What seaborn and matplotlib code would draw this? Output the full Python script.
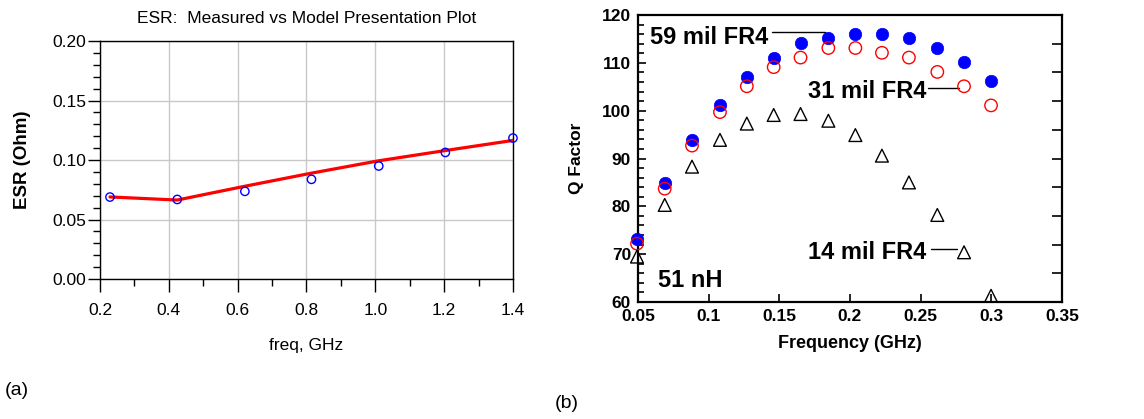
import numpy as np
import pandas as pd
import matplotlib
matplotlib.use("Agg")
import matplotlib.pyplot as plt
from matplotlib.ticker import MultipleLocator, FixedLocator
import seaborn as sns

# ---------------- data: panel (a) ----------------
esr_freq = [0.229, 0.4245, 0.621, 0.8145, 1.010, 1.2035, 1.400]
esr_measured = [0.0689, 0.0669, 0.0737, 0.0838, 0.0950, 0.1064, 0.1185]
esr_model = [0.0690, 0.0664, 0.0780, 0.0890, 0.0994, 0.1080, 0.1165]

# ---------------- data: panel (b) ----------------
q_freq = [0.0493, 0.0689, 0.0882, 0.108, 0.127, 0.146, 0.165, 0.1847,
          0.2038, 0.2226, 0.2417, 0.2618, 0.2807, 0.2998]
q_59mil = [73.1, 84.8, 93.9, 101.2, 107.1, 111.1, 114.1, 115.1, 116.1, 116.1,
           115.1, 113.0, 110.1, 106.1]
q_31mil = [72.2, 83.7, 92.7, 99.7, 105.1, 109.1, 111.1, 113.1, 113.1, 112.1,
           111.1, 108.1, 105.1, 101.1]
q_14mil = [69.5, 80.3, 88.3, 93.9, 97.3, 99.1, 99.3, 97.9, 94.9, 90.6,
           85.0, 78.2, 70.4, 61.3]

sns.set_theme(style="white")
plt.rcParams['font.family'] = ['Liberation Sans', 'DejaVu Sans']
for k in ["text.color", "axes.labelcolor", "xtick.color", "ytick.color",
          "axes.edgecolor"]:
    plt.rcParams[k] = "black"

fig = plt.figure(figsize=(11.44, 4.19), dpi=100)

# ================= panel (a) =================
axa = fig.add_axes([0.0874, 0.334, 0.361, 0.568])
sns.lineplot(x=esr_freq, y=esr_model, ax=axa, color="#ff0000", linewidth=2.3,
             zorder=3)
sns.scatterplot(x=esr_freq, y=esr_measured, ax=axa, marker="o", s=36,
                color="blue", facecolor="none", edgecolor="blue",
                linewidth=1.0, zorder=4, clip_on=False)
axa.set_xlim(0.2, 1.4)
axa.set_ylim(0.0, 0.20)
axa.xaxis.set_major_locator(MultipleLocator(0.2))
axa.xaxis.set_minor_locator(MultipleLocator(0.1))
axa.yaxis.set_major_locator(MultipleLocator(0.05))
axa.yaxis.set_minor_locator(MultipleLocator(0.01))
axa.xaxis.set_major_formatter(matplotlib.ticker.FormatStrFormatter('%.1f'))
axa.yaxis.set_major_formatter(matplotlib.ticker.FormatStrFormatter('%.2f'))
axa.grid(True, which="major", color="#c8c8c8", linewidth=1.0)
axa.set_axisbelow(True)
axa.tick_params(axis="both", which="major", direction="out", length=9,
                width=1, color="black", labelsize=12.5)
axa.tick_params(axis="both", which="minor", direction="out", length=5,
                width=1, color="black")
axa.tick_params(axis="x", which="major", pad=8)
axa.tick_params(axis="y", which="major", pad=1)
axa.tick_params(bottom=True, left=True, which="both")
for sp in axa.spines.values():
    sp.set_color("black")
    sp.set_linewidth(1.0)
axa.set_title("ESR:  Measured vs Model Presentation Plot", fontsize=12.5, pad=13)
axa.set_xlabel("freq, GHz", fontsize=12.5, labelpad=15)
axa.set_ylabel("ESR (Ohm)", fontsize=13.5, fontweight="bold", labelpad=15)
fig.text(0.004, 0.068, "(a)", fontsize=14, ha="left", va="center")

# ================= panel (b) =================
axb = fig.add_axes([0.5577, 0.2792, 0.3706, 0.685])
sns.scatterplot(x=q_freq, y=q_59mil, ax=axb, marker="o", s=80,
                color="blue", edgecolor="blue", linewidth=0.5, zorder=3,
                clip_on=False)
sns.scatterplot(x=q_freq, y=q_31mil, ax=axb, marker="o", s=80,
                color="red", facecolor="none", edgecolor="red",
                linewidth=1.0, zorder=4, clip_on=False)
sns.scatterplot(x=q_freq, y=q_14mil, ax=axb, marker="^", s=85,
                color="black", facecolor="none", edgecolor="black",
                linewidth=1.0, zorder=5, clip_on=False)
axb.set_xlim(0.05, 0.35)
axb.set_ylim(60, 120)
axb.xaxis.set_major_locator(MultipleLocator(0.05))
axb.yaxis.set_major_locator(MultipleLocator(10))
axb.yaxis.set_minor_locator(MultipleLocator(2))
axb.xaxis.set_major_formatter(matplotlib.ticker.FuncFormatter(
    lambda v, p: ("%.2f" % v).rstrip("0").rstrip(".") if abs(v * 100 % 10) > 1e-6 and abs(v*100 % 10 - 10) > 1e-6 else "%.1f" % v))
axb.tick_params(axis="both", which="major", direction="in", length=6,
                width=1.2, labelsize=12.5, pad=5)
axb.tick_params(axis="y", which="minor", direction="in", length=4, width=1.2)
axb.tick_params(bottom=True, left=True, which="both")
for lab in axb.get_xticklabels() + axb.get_yticklabels():
    lab.set_fontweight("bold")
for sp in axb.spines.values():
    sp.set_color("black")
    sp.set_linewidth(1.6)
# right-hand tick marks (secondary scale)
axr = axb.twinx()
axr.set_ylim(60, 120)
axr.yaxis.set_major_locator(FixedLocator(list(range(66, 115, 6))))
axr.tick_params(axis="y", direction="in", length=7, width=1.2,
                labelright=False, right=True)
axr.grid(False)
for sp in axr.spines.values():
    sp.set_visible(False)

axb.set_xlabel("Frequency (GHz)", fontsize=13, fontweight="bold", labelpad=8)
axb.set_ylabel("Q Factor", fontsize=12.5, fontweight="bold", labelpad=13)

ann_kw = dict(fontsize=17, fontweight="bold", va="center", zorder=6)
axb.text(0.0588, 115.3, "59 mil FR4", ha="left", **ann_kw)
axb.plot([0.1448, 0.1823], [116.4, 116.4], color="black", linewidth=1.0)
axb.text(0.2537, 104.0, "31 mil FR4", ha="right", **ann_kw)
axb.plot([0.2555, 0.2771], [104.7, 104.7], color="black", linewidth=1.0)
axb.text(0.2537, 70.4, "14 mil FR4", ha="right", **ann_kw)
axb.plot([0.2573, 0.2757], [71.0, 71.0], color="black", linewidth=1.0)
axb.text(0.0642, 64.4, "51 nH", ha="left", **ann_kw)
fig.text(0.485, 0.038, "(b)", fontsize=14, ha="left", va="center")

fig.savefig("out.png", dpi=100)
